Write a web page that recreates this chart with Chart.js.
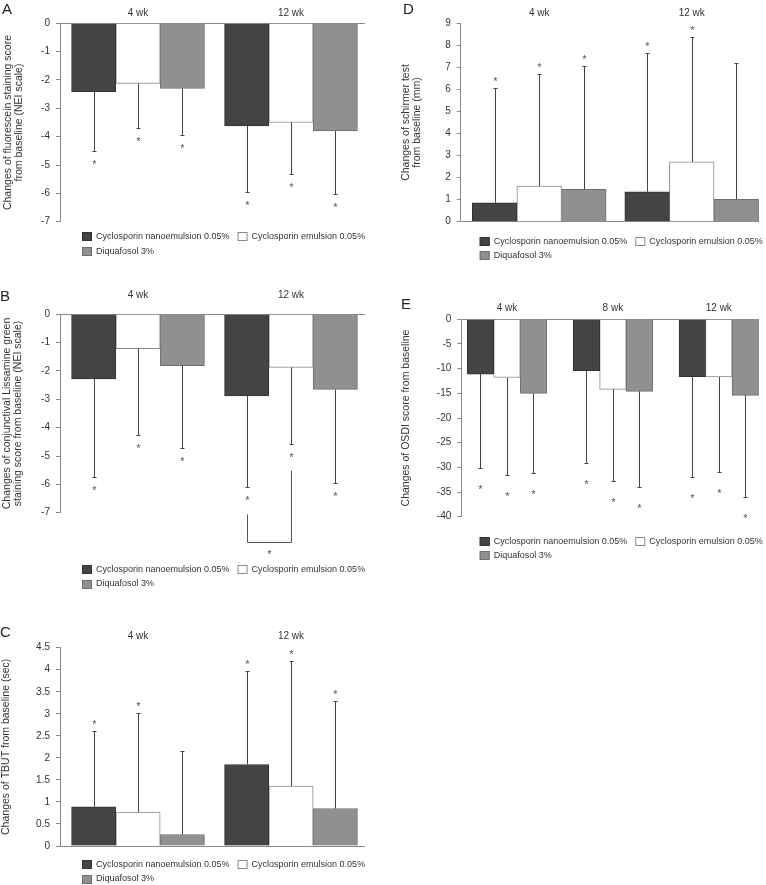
<!DOCTYPE html>
<html>
<head>
<meta charset="utf-8">
<script src="https://cdn.jsdelivr.net/npm/chart.js@4.4.1/dist/chart.umd.min.js"></script>
<style>
  html, body { margin: 0; padding: 0; background: #fff; }
  #wrap { position: relative; width: 766px; height: 885px; overflow: hidden; }
  canvas { position: absolute; }
</style>
</head>
<body>
<div id="wrap">
  <canvas id="chartA" width="383" height="275" style="left:0;top:0"></canvas>
  <canvas id="chartB" width="383" height="320" style="left:0;top:280px"></canvas>
  <canvas id="chartC" width="383" height="265" style="left:0;top:620px"></canvas>
  <canvas id="chartD" width="383" height="275" style="left:383px;top:0"></canvas>
  <canvas id="chartE" width="383" height="300" style="left:383px;top:280px"></canvas>
</div>
<script>
// legend / groups
const seriesNames = ["Cyclosporin nanoemulsion 0.05%", "Cyclosporin emulsion 0.05%", "Diquafosol 3%"];
const weeks2 = ["4 wk", "12 wk"];
const weeks3 = ["4 wk", "8 wk", "12 wk"];

// A - fluorescein staining score (NEI scale)
const fluoNano = [-2.41, -3.62];
const fluoEmul = [-2.12, -3.5];
const fluoDiqu = [-2.3, -3.8];
const fluoNanoSd = [2.1, 2.33];
const fluoEmulSd = [1.59, 1.83];
const fluoDiquSd = [1.65, 2.23];
const fluoStars = [[true, true], [true, true], [true, true]];

// B - conjunctival lissamine green staining score
const lissNano = [-2.28, -2.88];
const lissEmul = [-1.21, -1.87];
const lissDiqu = [-1.81, -2.65];
const lissNanoSd = [3.47, 3.22];
const lissEmulSd = [3.04, 2.72];
const lissDiquSd = [2.92, 3.29];
const lissStars = [[true, true], [true, true], [true, true]];
// bracket nano vs emulsion at 12 wk: left top, right top, bottom
const lissBracket = [-7.06, -5.52, -8.05];

// C - TBUT (sec)
const tbutNano = [0.89, 1.85];
const tbutEmul = [0.77, 1.36];
const tbutDiqu = [0.26, 0.85];
const tbutNanoSd = [1.73, 2.12];
const tbutEmulSd = [2.24, 2.84];
const tbutDiquSd = [1.9, 2.43];
const tbutStars = [[true, true], [true, true], [false, true]];

// D - schirmer test (mm)
const schNano = [0.86, 1.36];
const schEmul = [1.62, 2.72];
const schDiqu = [1.47, 1.02];
const schNanoSd = [5.19, 6.28];
const schEmulSd = [5.07, 5.67];
const schDiquSd = [5.58, 6.19];
const schStars = [[true, true], [true, true], [true, false]];

// E - OSDI score
const osdiNano = [-11.1, -10.4, -11.6];
const osdiEmul = [-11.8, -14.2, -11.7];
const osdiDiqu = [-15.0, -14.6, -15.4];
const osdiNanoSd = [19.0, 18.8, 20.3];
const osdiEmulSd = [19.8, 18.6, 19.3];
const osdiDiquSd = [16.2, 19.3, 20.6];
const osdiStars = [[true, true, true], [true, true, true], [true, true, true]];

const FONT = "'Liberation Sans', Arial, Helvetica, sans-serif";
const fills = ["#444444", "#ffffff", "#909090"];
const edges = ["#333333", "#8a8a8a", "#6e6e6e"];
const axisGrey = "#8a8a8a";

// draws error bars, asterisks, week labels, panel letter and legend
const panelDeco = {
  id: "panelDeco",
  afterDatasetsDraw(chart, args, opts) {
    const ctx = chart.ctx;
    const y = chart.scales.y;
    ctx.save();
    ctx.lineWidth = 1;
    chart.data.datasets.forEach((ds, d) => {
      const meta = chart.getDatasetMeta(d);
      meta.data.forEach((bar, i) => {
        const v = ds.data[i].y;
        const dir = v < 0 ? -1 : 1;
        const end = Math.round(y.getPixelForValue(v + dir * ds.sd[i])) + 0.5;
        const px = Math.round(bar.x) + 0.5;
        ctx.strokeStyle = "#444";
        ctx.beginPath();
        ctx.moveTo(px, bar.y);
        ctx.lineTo(px, end);
        ctx.moveTo(px - 2, end);
        ctx.lineTo(px + 2, end);
        ctx.stroke();
        if (ds.star[i]) {
          const sy = end - dir * opts.starGap;
          ctx.fillStyle = "#555";
          ctx.font = "11px " + FONT;
          ctx.textAlign = "center";
          ctx.textBaseline = "alphabetic";
          ctx.fillText("*", px, sy + 6.5);
        }
      });
    });
    // significance bracket
    if (opts.bracket) {
      const b = opts.bracket;
      const x1 = Math.round(chart.getDatasetMeta(0).data[b.index].x) + 0.5;
      const x2 = Math.round(chart.getDatasetMeta(1).data[b.index].x) + 0.5;
      const yb = Math.round(y.getPixelForValue(b.vals[2])) + 0.5;
      ctx.strokeStyle = "#555";
      ctx.beginPath();
      ctx.moveTo(x1, y.getPixelForValue(b.vals[0]));
      ctx.lineTo(x1, yb);
      ctx.lineTo(x2, yb);
      ctx.lineTo(x2, y.getPixelForValue(b.vals[1]));
      ctx.stroke();
      ctx.fillStyle = "#555";
      ctx.font = "11px " + FONT;
      ctx.textAlign = "center";
      ctx.fillText("*", (x1 + x2) / 2, yb + 9 + 6.5);
    }
    ctx.restore();
  },
  afterDraw(chart, args, opts) {
    const ctx = chart.ctx;
    const area = chart.chartArea;
    const x = chart.scales.x;
    ctx.save();
    // week labels above groups
    ctx.fillStyle = "#333";
    ctx.font = "10px " + FONT;
    ctx.textAlign = "center";
    ctx.textBaseline = "middle";
    opts.groups.forEach((g, i) => {
      ctx.fillText(g, x.getPixelForValue(i), area.top - opts.groupGap);
    });
    // panel letter
    ctx.font = "15px " + FONT;
    ctx.textAlign = "left";
    ctx.fillStyle = "#222";
    ctx.fillText(opts.letter, opts.letterPos[0], opts.letterPos[1]);
    // legend
    ctx.font = "9px " + FONT;
    const lx0 = area.left + opts.legendDx;
    let lx = lx0;
    let ly = area.bottom + opts.legendDy;
    chart.data.datasets.forEach((ds, d) => {
      if (d === 2) { lx = lx0; ly += 14.5; }
      ctx.fillStyle = ds.backgroundColor;
      ctx.fillRect(lx, Math.round(ly) - 4, 10, 9);
      ctx.strokeStyle = ds.borderColor;
      ctx.strokeRect(lx + 0.5, Math.round(ly) - 3.5, 9, 8);
      ctx.fillStyle = "#333";
      ctx.fillText(ds.label, lx + 14, ly + 0.5);
      lx += 14 + ctx.measureText(ds.label).width + 8;
    });
    ctx.restore();
  }
};

function makeSets(vals, sds, stars, thick) {
  return vals.map((v, d) => ({
    label: seriesNames[d],
    data: v.map((val, i) => ({ x: i, y: val })),
    sd: sds[d],
    star: stars[d],
    backgroundColor: fills[d],
    borderColor: edges[d],
    borderWidth: 1,
    barThickness: thick,
  }));
}

function makeChart(id, p) {
  return new Chart(document.getElementById(id), {
    type: "bar",
    data: { datasets: makeSets(p.vals, p.sds, p.stars, p.thick) },
    plugins: [panelDeco],
    options: {
      responsive: false,
      animation: false,
      devicePixelRatio: 1,
      events: [],
      layout: { padding: p.pad },
      plugins: {
        legend: { display: false },
        tooltip: { enabled: false },
        panelDeco: {
          groups: p.groups,
          groupGap: p.groupGap,
          letter: p.letter,
          letterPos: p.letterPos,
          legendDx: p.legendDx,
          legendDy: p.legendDy,
          starGap: p.starGap,
          bracket: p.bracket || null,
        },
      },
      scales: {
        x: {
          type: "linear",
          display: false,
          offset: false,
          bounds: "data",
          min: p.xr[0],
          max: p.xr[1],
          grid: { offset: false },
        },
        y: {
          min: p.yr[0],
          max: p.yr[1],
          ticks: {
            stepSize: p.yr[2],
            color: "#333",
            padding: 6,
            font: { size: 10, family: FONT },
            callback: (v) => String(v),
          },
          grid: {
            color: (c) => (c.tick && c.tick.value === 0 ? axisGrey : "transparent"),
            tickColor: axisGrey,
            tickLength: 4,
          },
          border: { display: true, color: axisGrey },
          title: {
            display: true,
            text: p.title,
            color: "#333",
            font: { size: 10.5, family: FONT, lineHeight: 1.1 },
            padding: { top: p.titlePad, bottom: 0 },
          },
          afterFit: (s) => { s.width = p.yWidth; },
        },
      },
    },
  });
}

makeChart("chartA", {
  vals: [fluoNano, fluoEmul, fluoDiqu],
  sds: [fluoNanoSd, fluoEmulSd, fluoDiquSd],
  stars: fluoStars,
  thick: 44.3,
  groups: weeks2, groupGap: 10,
  letter: "A", letterPos: [2, 10],
  legendDx: 22, legendDy: 14.5, starGap: 10,
  pad: { top: 23.3, bottom: 53.3, right: 18, left: 0 },
  xr: [-0.51, 1.4837],
  yr: [-7, 0, 1],
  yWidth: 60,
  title: ["Changes of fluorescein staining score", "from baseline (NEI scale)"],
  titlePad: 2,
});

makeChart("chartB", {
  vals: [lissNano, lissEmul, lissDiqu],
  sds: [lissNanoSd, lissEmulSd, lissDiquSd],
  stars: lissStars,
  thick: 44.3,
  groups: weeks2, groupGap: 19,
  letter: "B", letterPos: [0, 17],
  legendDx: 22, legendDy: 56.3, starGap: 10,
  bracket: { index: 1, vals: lissBracket },
  pad: { top: 34.3, bottom: 87.3, right: 18, left: 0 },
  xr: [-0.51, 1.4837],
  yr: [-7, 0, 1],
  yWidth: 60,
  title: ["Changes of conjunctival Lissamine green", "staining score from baseline (NEI scale)"],
  titlePad: 1,
});

makeChart("chartC", {
  vals: [tbutNano, tbutEmul, tbutDiqu],
  sds: [tbutNanoSd, tbutEmulSd, tbutDiquSd],
  stars: tbutStars,
  thick: 44.3,
  groups: weeks2, groupGap: 11,
  letter: "C", letterPos: [0, 13],
  legendDx: 22, legendDy: 18, starGap: 10,
  pad: { top: 27.7, bottom: 39, right: 18, left: 0 },
  xr: [-0.51, 1.4837],
  yr: [0, 4.5, 0.5],
  yWidth: 60,
  title: "Changes of TBUT from baseline (sec)",
  titlePad: 0.5,
});

makeChart("chartD", {
  vals: [schNano, schEmul, schDiqu],
  sds: [schNanoSd, schEmulSd, schDiquSd],
  stars: schStars,
  thick: 44.6,
  groups: weeks2, groupGap: 10,
  letter: "D", letterPos: [20, 10],
  legendDx: 19, legendDy: 19, starGap: 10,
  pad: { top: 23.3, bottom: 53.3, right: 7, left: 0 },
  xr: [-0.5148, 1.4413],
  yr: [0, 9, 1],
  yWidth: 77.7,
  title: ["Changes of schirmer test", "from baseline (mm)"],
  titlePad: 17,
});

makeChart("chartE", {
  vals: [osdiNano, osdiEmul, osdiDiqu],
  sds: [osdiNanoSd, osdiEmulSd, osdiDiquSd],
  stars: osdiStars,
  thick: 26.5,
  groups: weeks3, groupGap: 11,
  letter: "E", letterPos: [18, 25],
  legendDx: 18.4, legendDy: 24, starGap: 18,
  pad: { top: 39.3, bottom: 63.3, right: 7, left: 0 },
  xr: [-0.4315, 2.3796],
  yr: [-40, 0, 5],
  yWidth: 78.3,
  title: "Changes of OSDI score from baseline",
  titlePad: 17,
});
console.log("done");
</script>
</body>
</html>
